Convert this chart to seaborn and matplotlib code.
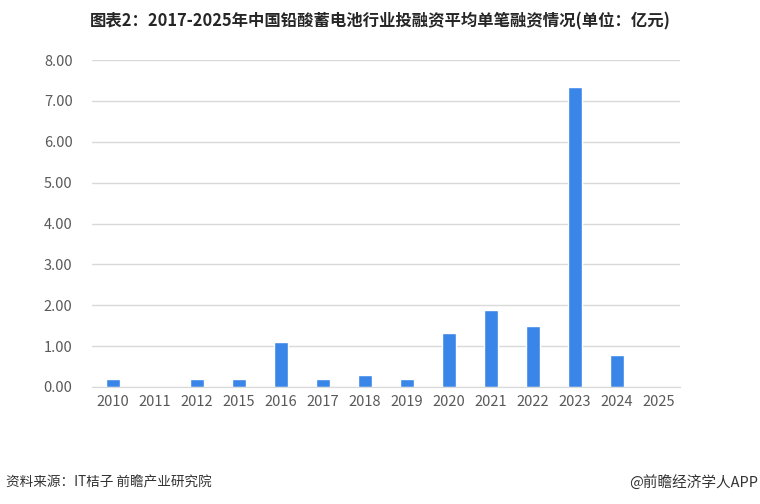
import matplotlib
matplotlib.use('Agg')
import matplotlib.pyplot as plt
import seaborn as sns
import pandas as pd

years = ['2010', '2011', '2012', '2015', '2016', '2017', '2018',
         '2019', '2020', '2021', '2022', '2023', '2024', '2025']
amounts = [0.2, 0.0, 0.2, 0.2, 1.1, 0.2, 0.3,
           0.2, 1.32, 1.88, 1.49, 7.34, 0.78, 0.0]

df = pd.DataFrame({'year': years, 'amount': amounts})

sns.set_style('white')
plt.rcParams['font.family'] = ['Noto Sans CJK SC', 'DejaVu Sans']

fig = plt.figure(figsize=(7.6, 5.04), dpi=100)
ax = fig.add_axes([92 / 760, (504 - 387) / 504, 588 / 760, 327 / 504])

sns.barplot(data=df, x='year', y='amount', color='#3a86e8', saturation=1,
            width=0.31, ax=ax)

ax.set_ylim(0, 8)
ax.set_yticks(range(0, 9))
ax.set_yticklabels([f'{v:.2f}' for v in range(0, 9)])
ax.set_xlim(-0.5, len(years) - 0.5)
ax.yaxis.grid(True, color='#d9d9d9', linewidth=1)
ax.set_axisbelow(True)
for s in ['top', 'right', 'left']:
    ax.spines[s].set_visible(False)
ax.spines['bottom'].set_color('#d9d9d9')
ax.tick_params(axis='both', length=0, colors='#595959', labelsize=10.5)
ax.tick_params(axis='y', pad=14)
ax.tick_params(axis='x', pad=6)
ax.set_xlabel('')
ax.set_ylabel('')

fig.text(0.5, 0.958, '图表2：2017-2025年中国铅酸蓄电池行业投融资平均单笔融资情况(单位：亿元)',
         ha='center', va='center', fontsize=11.8, fontweight='bold', color='#262626')
fig.text(0.008, 0.042, '资料来源：IT桔子 前瞻产业研究院', ha='left', va='center',
         fontsize=9.8, color='#333333')
fig.text(0.998, 0.042, '@前瞻经济学人APP', ha='right', va='center',
         fontsize=10.5, color='#333333')

fig.savefig('out.png', dpi=100)
